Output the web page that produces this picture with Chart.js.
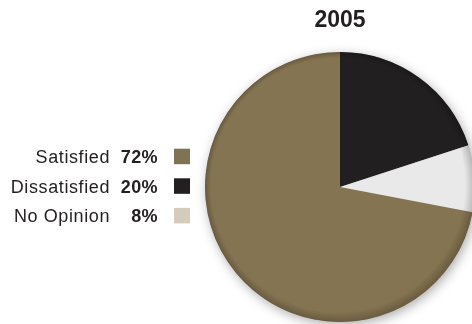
<!DOCTYPE html>
<html>
<head>
<meta charset="utf-8">
<script src="https://cdn.jsdelivr.net/npm/chart.js@4/dist/chart.umd.min.js"></script>
<style>
  html, body { margin: 0; padding: 0; background: #fff; overflow: hidden; }
  #wrap { width: 476px; height: 324px; }
</style>
</head>
<body>
<div id="wrap"><canvas id="pie" width="476" height="324"></canvas></div>
<script>
// 2005 survey results
const year = '2005';
const categories = ['Satisfied', 'Dissatisfied', 'No Opinion'];
const shares = [72, 20, 8];

const sliceColors = ['#857451', '#221f20', '#e9e9e9'];
const swatchColors = ['#807353', '#231f20', '#d4cbbd'];
const ink = '#231f20';
const FONT = "'Liberation Sans', Arial, Helvetica, sans-serif";

const total = shares.reduce((a, b) => a + b, 0);

// soft drop shadow under the whole disc
const discShadow = {
    id: 'discShadow',
    beforeDatasetsDraw(chart) {
        const arc = chart.getDatasetMeta(0).data[0];
        if (!arc) return;
        const { x, y, outerRadius } = arc.getProps(['x', 'y', 'outerRadius'], true);
        const ctx = chart.ctx;
        ctx.save();
        ctx.shadowColor = 'rgba(0,0,0,0.35)';
        ctx.shadowBlur = 12;
        ctx.shadowOffsetX = 2;
        ctx.shadowOffsetY = 3;
        ctx.fillStyle = sliceColors[0];
        ctx.beginPath();
        ctx.arc(x, y, outerRadius - 0.5, 0, Math.PI * 2);
        ctx.fill();
        ctx.restore();
    },
    // darker rim round the edge
    afterDatasetsDraw(chart) {
        const arc = chart.getDatasetMeta(0).data[0];
        if (!arc) return;
        const { x, y, outerRadius } = arc.getProps(['x', 'y', 'outerRadius'], true);
        const ctx = chart.ctx;
        const g = ctx.createRadialGradient(x - 2, y - 2, outerRadius * 0.94, x, y, outerRadius);
        g.addColorStop(0, 'rgba(0,0,0,0)');
        g.addColorStop(1, 'rgba(0,0,0,0.22)');
        ctx.save();
        ctx.beginPath();
        ctx.arc(x, y, outerRadius, 0, Math.PI * 2);
        ctx.fillStyle = g;
        ctx.fill();
        ctx.restore();
    }
};

// legend on the left: "Label  NN%  [■]"
const sideLegend = {
    id: 'sideLegend',
    afterDraw(chart) {
        const ctx = chart.ctx;
        const labelRight = 110, pctRight = 158, boxX = 174, boxW = 16, boxH = 15.5;
        const firstBaseline = 163.2, rowGap = 29.6;
        ctx.save();
        ctx.textBaseline = 'alphabetic';
        ctx.fillStyle = ink;
        categories.forEach((name, i) => {
            const by = firstBaseline + i * rowGap;
            ctx.letterSpacing = '0.6px';
            ctx.textAlign = 'right';
            ctx.font = `18px ${FONT}`;
            ctx.fillStyle = ink;
            ctx.fillText(name, labelRight, by);
            ctx.letterSpacing = '0.4px';
            ctx.font = `bold 18px ${FONT}`;
            ctx.fillText(shares[i] + '%', pctRight, by);
            ctx.fillStyle = swatchColors[i];
            ctx.fillRect(boxX, by - 14.5, boxW, boxH);
        });
        ctx.restore();
    }
};

new Chart(document.getElementById('pie'), {
    type: 'pie',
    data: {
        labels: categories,
        datasets: [{
            data: shares,
            backgroundColor: sliceColors,
            borderWidth: 0,
            hoverOffset: 0
        }]
    },
    options: {
        responsive: false,
        animation: false,
        devicePixelRatio: 1,
        // "Satisfied" ends at 12 o'clock, the other two run clockwise from there
        rotation: -360 * shares[0] / total,
        layout: { padding: { left: 205, right: 1, top: 0, bottom: 2 } },
        plugins: {
            legend: { display: false },
            tooltip: { enabled: false },
            title: {
                display: true,
                text: year,
                color: ink,
                font: { family: FONT, size: 23, weight: 'bold' },
                padding: { top: 6.4, bottom: 18 }
            }
        }
    },
    plugins: [discShadow, sideLegend]
});
</script>
</body>
</html>
